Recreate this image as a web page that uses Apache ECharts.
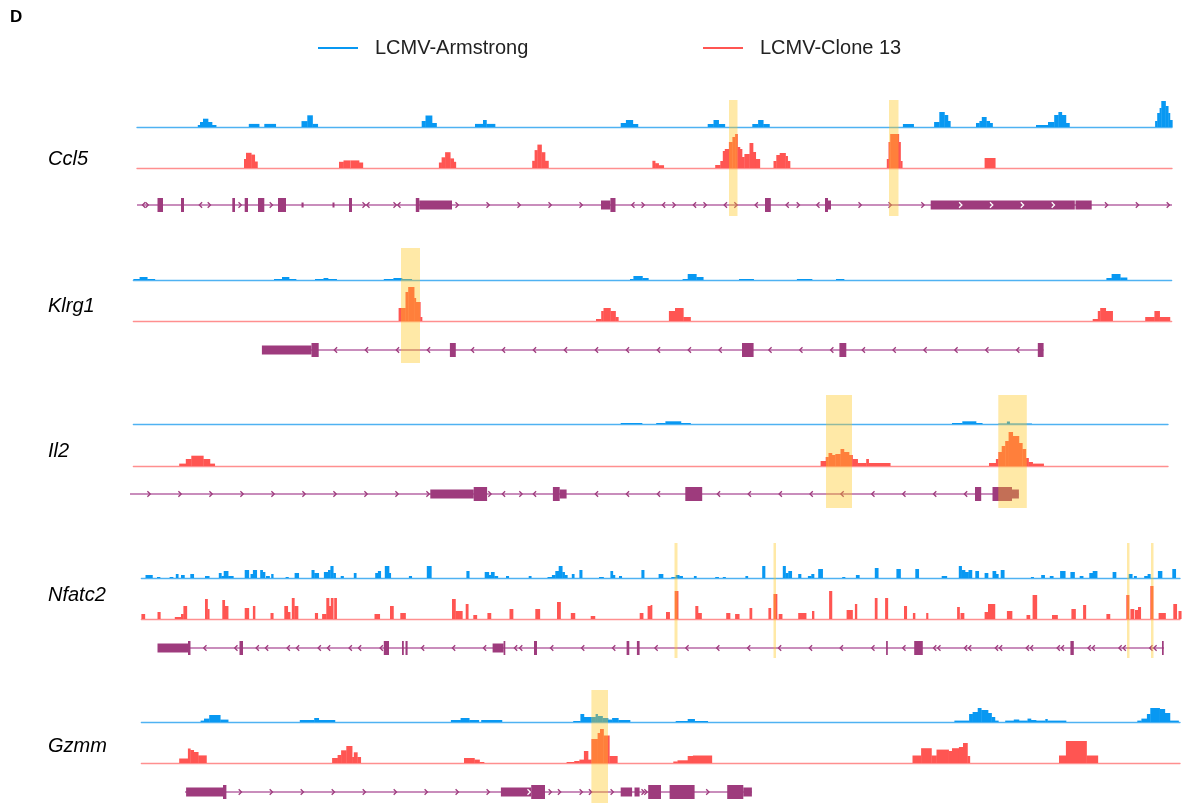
<!DOCTYPE html>
<html><head><meta charset="utf-8">
<script src="https://cdn.jsdelivr.net/npm/echarts@6/dist/echarts.min.js"></script>
<style>html,body{margin:0;padding:0;background:#fff}#c{width:1188px;height:803px}</style>
</head><body><div id="c"></div>
<script>
// ---------- DATA (positions in track units, heights in signal units) ----------
const geneNames = ['Ccl5','Klrg1','Il2','Nfatc2','Gzmm'];
const seriesNames = ['LCMV-Armstrong','LCMV-Clone 13'];

// bins: [start, end, signal]
const ccl5Arm = [[197.8,200,2],[200,203,5],[203,208,8.3],[208,212,5],[212,216.1,2],[248.8,259.1,3.1],[264.3,275.7,3.1],[301.5,307.3,5.9],[307.3,312.5,11.7],[312.5,317.7,3.1],[421.7,425.5,6],[425.5,432,11.5],[432,436.5,4],[475,483,3.1],[483,486.4,7],[486.4,495,3.1],[620.7,625.9,4],[625.9,632.8,7],[632.8,637.9,3],[707.7,713.5,3],[713.5,718.6,7],[718.6,724.8,3],[752.3,758.1,3],[758.1,763.2,7],[763.2,769.4,3],[902.9,913.6,3],[934.1,939.3,5],[939.3,944.4,15],[944.4,947.9,12],[947.9,950.3,6],[976,979.4,4],[979.4,981.8,6],[981.8,986.3,10],[986.3,989.7,6],[989.7,992.5,4],[1036,1048,2],[1048,1054.2,5],[1054.2,1058.4,12],[1058.4,1061.8,15],[1061.8,1065.9,12],[1065.9,1069.4,4],[1155.1,1157.2,6],[1157.2,1159.6,14],[1159.6,1161.3,19],[1161.3,1165.5,26],[1165.5,1168.2,21],[1168.2,1169.9,14],[1169.9,1172.3,7]];
const ccl5Cl13 = [[244,246,9],[246,251.2,15.2],[251.2,254.7,13.4],[254.7,257.4,6.5],[339,343.5,6.2],[343.5,350.2,7.6],[350.6,359,7.6],[359,362.8,5.5],[438.9,441.6,5.5],[441.6,445.1,10.7],[445.1,450.2,15.8],[450.2,453.7,9.6],[453.7,455.8,6.2],[532.2,534.6,7.2],[534.6,537.4,17.9],[537.4,541.5,23.4],[541.5,545,15.8],[545,548.4,7.2],[652.4,655.1,7.2],[655.1,658.6,4.8],[658.6,663.7,2.8],[715.2,720.3,3],[720.3,722.8,7],[722.8,724.8,17],[724.8,728.9,19],[728.9,732.4,26],[732.4,735.1,31],[735.1,737.5,34],[737.5,739.9,21],[739.9,742,19],[742,744.4,11],[744.4,749.5,14],[749.5,753,25],[753,755.7,16],[755.7,759.8,9],[773.5,776.3,7],[776.3,779.7,13],[779.7,785.5,15],[785.5,787.6,12],[787.6,790,7],[886.8,888.5,9],[888.5,890.2,26],[890.2,898.8,34],[898.8,900.5,26],[900.5,902.2,7],[984.6,995.2,10]];

const klrg1Arm = [[133.4,139.6,1],[139.6,147.2,3],[147.2,154.8,1],[274,282,1],[282,289,3],[289,296,1],[315,323.5,1],[323.5,328,2],[328,336.6,1],[383.8,393.4,1],[393.4,402,2],[402,411.7,1],[630,633.4,1],[633.4,642.4,4],[642.4,648.3,2],[682.6,687.7,1],[687.7,696.3,6],[696.3,703.2,3],[739,753.6,1],[796.9,812,1],[836,844,1],[1106.4,1111.6,2],[1111.6,1120.2,6],[1120.2,1127,2.5]];
const klrg1Cl13 = [[398.6,405.5,13],[405.5,408.2,29],[408.2,414.1,34],[414.1,415.8,23],[415.8,420.3,19],[420.3,422,4],[596,601.2,2],[601.2,603.5,10],[603.5,610.4,13],[610.4,615.5,10],[615.5,618.3,4],[668.9,675,10],[675,683.3,13],[683.3,690.5,4],[1092.7,1097.8,2],[1097.8,1100.2,10],[1100.2,1105.7,13],[1105.7,1112.6,10],[1145.2,1154.4,4],[1154.4,1159.6,10],[1159.6,1169.9,4]];

const il2Arm = [[620.7,642,1],[656.2,665.4,1],[665.4,680.9,2.7],[680.9,690.5,1],[952,962.3,1],[962.3,976,2.7],[976,982.2,1],[998.3,1006.9,0.5],[1006.9,1009.6,2.5],[1009.6,1031.6,0.5]];
const il2Cl13 = [[179.2,185.8,2.4],[185.8,191.3,7],[191.3,203.3,10.3],[203.3,209.9,7],[209.9,214.7,2.4],[820.6,825.7,5],[825.7,828.5,9],[828.5,831.9,13],[831.9,835.3,11],[835.3,840.5,12],[840.5,843.9,17],[843.9,849,14],[849,852.5,11],[852.5,857.6,7],[857.6,866.2,3],[866.2,868.6,7],[868.6,890.2,3],[989,995.9,3],[995.9,998.3,7],[998.3,1001.7,14],[1001.7,1005.2,20],[1005.2,1008.6,25],[1008.6,1012.7,34],[1012.7,1018.9,30],[1018.9,1022.3,23],[1022.3,1025.8,17],[1025.8,1028.5,8],[1028.5,1032.6,4],[1032.6,1043.6,2.4]];

const nfatc2Arm = [[145.5,152.4,3],[157,160,1],[169.6,173,1],[175.8,178.2,4],[181,184.4,3],[190.3,193.7,4],[205,209.2,2],[218.8,221.3,5],[221.3,223.7,2],[223.7,228.1,7],[228.1,233.3,2],[244.7,248.8,8],[250.5,252.9,4],[252.9,256.7,8],[260.2,262.6,8],[262.6,265,6],[266,269.5,2],[271.2,273.2,4],[285.6,288.4,1],[294.6,298.7,5],[311.5,314.2,8],[314.2,318.7,5],[323.9,328,6],[328,330.4,8],[330.4,333.2,12],[333.2,335.6,5],[340.7,343.5,2],[353.8,356.2,5],[375.2,377.9,5],[377.9,380.7,7],[384.8,389,12],[389,390.7,5],[408.9,411.7,2],[426.8,431.3,12],[466.4,469.2,7],[484.7,488.8,6],[488.8,490.9,3],[490.9,494.3,6],[494.3,497.8,2],[506,508.7,2],[528.7,531.2,2],[547.5,551.9,1],[551.9,555.3,3],[555.3,558.7,7],[558.7,562.2,12],[562.2,564.6,6],[564.6,567.3,3],[571.8,574.2,4],[579.4,582.1,8],[599,603.5,1],[610.4,612.8,7],[612.8,614.9,3],[619,621.7,2],[641.4,644.1,8],[658.6,663,4],[671.3,675.7,1],[675.7,679.2,3],[679.2,682.6,2],[693.9,696.3,2],[715.2,718.6,1],[722.8,725.5,1],[745.4,747.8,2],[762.2,765,12],[782.8,785.5,12],[785.5,788.3,5],[788.3,791.7,7],[798.2,801,4],[807.9,811.3,2],[811.3,814,4],[818.2,822.6,9],[842.2,845,1],[855.9,859.3,3],[874.8,878.2,10],[896.4,900.5,9],[915.3,918.7,9],[941.7,946.8,2],[958.8,961.6,12],[961.6,965,8],[965,968.5,6],[968.5,971.9,8],[975.3,978.7,7],[984.6,988,5],[992.5,995.9,7],[995.9,998.3,4],[1000.7,1004.2,8],[1030.9,1033.6,1],[1041.2,1044.6,3],[1049.8,1053.2,2],[1060.1,1065.2,7],[1070.4,1074.5,6],[1079.7,1083.1,2],[1089.3,1092.7,5],[1092.7,1097.1,7],[1112.6,1116,6],[1128.7,1132.2,4],[1133.9,1136.5,2],[1144.2,1147.6,2],[1147.6,1150.3,4],[1157.9,1162,7],[1172.3,1175.7,9]];
const nfatc2Cl13 = [[141.4,144.8,5],[157.5,160.3,7],[174.8,181,2],[181,183.4,5],[183.4,186.8,13],[205,207.5,20],[207.5,209.2,10],[222.3,224.7,19],[224.7,228.1,13],[244.7,248.8,11],[252.9,255,13],[270.5,273.2,6],[284.3,287.7,13],[287.7,290.1,7],[291.8,294.3,21],[294.3,298,13],[314.9,317.7,6],[322.1,326.3,5],[326.3,329,21],[329,330.8,13],[330.8,333.2,21],[334.2,336.6,21],[374.5,379.7,5],[390,393.4,13],[400.3,405.5,6],[452,455.4,20],[455.4,458.9,8],[458.9,462.3,8],[465.7,468.2,15],[473.3,476.8,4],[487.4,490.9,6],[509.5,513,10],[535.3,539.8,10],[557,560.5,17],[570.8,574.9,6],[590.7,594.9,3],[639.7,643.1,6],[647.6,650.6,13],[650.6,652,14],[666,669.6,7],[674.7,678.1,28],[695.3,698,13],[698,701.5,6],[726.2,730,6],[735.1,739.2,5],[749.5,751.9,11],[768.4,770.8,11],[773.5,777,25],[778.7,782.1,5],[798.2,806.1,6],[812,814,8],[829.1,831.9,28],[846.6,852.5,9],[854.9,856.9,15],[874.8,877.2,21],[885.1,887.8,21],[904,906.7,13],[912.9,915,6],[926.2,928,6],[957.1,959.5,12],[960.5,964,6],[984.6,988,7],[988,994.9,15],[1006.9,1012,8],[1026.5,1029.9,4],[1032.6,1036.8,24],[1052,1057.5,4],[1071.4,1075.5,10],[1083.1,1085.8,14],[1106.4,1109.9,5],[1126.3,1129,24],[1130.4,1134,10],[1135,1138,9],[1138,1140.7,12],[1150.3,1153.1,33],[1158.6,1165.5,6],[1173.3,1176.7,15],[1178.5,1181.2,8]];

const gzmmArm = [[200.6,204,1.4],[204,209.2,3.4],[209.2,220.2,7],[220.2,228.1,2.4],[299.8,314.2,2],[314.2,318.7,4],[318.7,334.9,2],[450.9,460.6,2],[460.6,469.2,4],[469.2,478.8,2],[481.2,501.9,2],[573.2,580.4,1],[580.4,583.9,8],[583.9,591.4,5],[591.4,595.6,5],[595.6,597.6,8],[597.6,602.5,6],[602.5,608,4],[608,612.1,2.4],[612.1,618.3,4],[618.3,630,2],[675.7,687.7,1],[687.7,694.6,3],[694.6,707.7,1],[954.4,969.1,1.4],[969.1,972.6,8],[972.6,977.7,10],[977.7,981.2,14],[981.2,988,12],[988,991.5,9],[991.5,994.9,5],[994.9,998.3,1.4],[1005.2,1013.8,1.4],[1013.8,1018.9,2.5],[1018.9,1027.5,1.4],[1027.5,1030.9,3.4],[1030.9,1036,2],[1036,1045.3,1.4],[1045.3,1047.4,3],[1047.4,1066,1.4],[1137.3,1141.4,1.4],[1141.4,1146.9,3.4],[1146.9,1150.3,8],[1150.3,1159.6,14],[1159.6,1164.8,13],[1164.8,1169.9,9],[1169.9,1178.5,1.4]];
const gzmmCl13 = [[179.2,187.9,4.5],[187.9,190.3,14.5],[190.3,193.7,13],[193.7,198.2,11],[198.2,206.4,7.6],[332.1,337.6,5],[337.6,341.1,8],[341.1,346.3,12.7],[346.3,352.1,17],[352.1,353.8,6],[353.8,357.3,10.7],[357.3,360.7,6],[464,474.4,5],[474.4,479.5,3.4],[479.5,484,1],[566.6,574.2,1],[574.2,579.4,2],[579.4,583.9,3.4],[583.9,588,12],[588,591.4,3.4],[591.4,597.6,24],[597.6,600,30],[600,603.5,34],[603.5,609.3,27.5],[609.3,617.3,7],[673.3,677.5,1.5],[677.5,687.7,2.7],[687.7,692.9,7],[692.9,711.8,7.5],[912.5,921.1,7.5],[921.1,931.4,14.8],[931.4,936.5,7.5],[936.5,948.6,13.4],[948.6,952,12],[952,958.9,14.8],[958.9,963,16],[963,967.4,20],[967.4,969.8,7],[1059,1065.9,7.5],[1065.9,1086.5,22],[1086.5,1097.8,7.5]];

// gene models: span [start,end]; exons [start,end,kind(2 coding,1 utr,0 small)]; strand marks [pos,dir,inside]
const ccl5Span = [137,1172];
const ccl5Exons = [[157.5,163,2],[181,184,2],[232.3,235,2],[244.7,248,2],[258,264.3,2],[278,286,2],[301.5,303.6,0],[332.5,334.5,0],[349,352,2],[415.8,419.3,2],[419.3,452,1],[601,610.4,1],[610.4,615.5,2],[765,770.8,2],[825,828,2],[828,831,1],[930.7,1074.8,1],[1075.5,1091.7,1]];
const ccl5Marks = [[143.8,-1],[147,1],[200.6,-1],[209.2,1],[240,1],[271.2,1],[364,1],[368,-1],[395,1],[399,-1],[457,1],[488,1],[519,1],[550,1],[581,1],[633,-1],[643,1],[663.7,-1],[674,1],[694.6,-1],[705,1],[725.5,-1],[735.8,1],[756.4,-1],[787.3,-1],[798.2,1],[818,-1],[860,1],[890,1],[922.8,1],[960.6,1,1],[991.5,1,1],[1022.3,1,1],[1053.2,1,1],[1106.4,1],[1137.3,1],[1168.2,1]];

const klrg1Span = [262,1043.6];
const klrg1Exons = [[261.9,311.5,1],[311.5,318.7,2],[449.9,455.8,2],[742,753.6,2],[839.4,846.3,2],[1037.8,1043.6,2]];
const klrg1Marks = [[335.6,-1],[366.6,-1],[397.6,-1],[428.6,-1],[472.6,-1],[503.6,-1],[534.6,-1],[565.6,-1],[596.6,-1],[627.6,-1],[658.6,-1],[689.5,-1],[720.3,-1],[770.1,-1],[801,-1],[831.9,-1],[863.5,-1],[894.3,-1],[925.2,-1],[956.1,-1],[987,-1],[1017.9,-1]];

const il2Span = [130,1019];
const il2Exons = [[430.3,473.7,1],[473.7,487.1,2],[552.9,559.7,2],[559.7,566.6,1],[685.3,702.2,2],[975,981.2,2],[992.5,1012,2],[1012,1018.9,1]];
const il2Marks = [[148.9,1],[179.9,1],[210.9,1],[241.9,1],[272.9,1],[303.9,1],[334.9,1],[365.9,1],[396.9,1],[427.9,1],[489.8,1],[503.6,-1],[520.8,1],[534.6,-1],[596.6,-1],[627.6,-1],[658.6,-1],[718.6,-1],[749.5,-1],[780.4,-1],[811.3,-1],[842.2,-1],[873,-1],[904,-1],[934.8,-1],[965.7,-1]];

const nfatc2Span = [158,1164];
const nfatc2Exons = [[157.5,188,1],[188,190.5,2],[239.5,243,2],[383.8,389,2],[402,403.8,2],[405.5,407.6,2],[492.6,503.6,1],[503.6,505.3,2],[534,537,2],[626.6,629.3,2],[636.9,639.6,2],[886.1,887.8,2],[914.2,922.8,2],[1070.4,1073.8,2],[1162,1163.7,2]];
const nfatc2Marks = [[205,-1],[236,-1],[257.4,-1],[266.7,-1],[288.4,-1],[297.7,-1],[319.4,-1],[328.7,-1],[350.4,-1],[359.7,-1],[381.4,-1],[422.7,-1],[453.7,-1],[484.7,-1],[515.7,-1],[520.8,-1],[551.8,-1],[582.8,-1],[613.8,-1],[656.2,-1],[687.1,-1],[717.9,-1],[748.8,-1],[779.7,-1],[810.6,-1],[841.5,-1],[873,-1],[904,-1],[934.8,-1],[939,-1],[965.7,-1],[969.8,-1],[996.6,-1],[1000.7,-1],[1027.5,-1],[1031.6,-1],[1058.4,-1],[1062.5,-1],[1089.3,-1],[1093.4,-1],[1120.2,-1],[1124.3,-1],[1151,-1],[1155.1,-1]];

const gzmmSpan = [185,752];
const gzmmExons = [[186.1,223,1],[223,226.4,2],[500.9,531.2,1],[531.2,545,2],[620.7,632.1,1],[634.5,639.6,1],[648.2,661,2],[669.6,694.6,2],[727.2,743.3,2],[743.3,751.9,1]];
const gzmmMarks = [[240.2,1],[271.2,1],[302.2,1],[333.2,1],[364.2,1],[395.2,1],[426.1,1],[457.1,1],[488.1,1],[529,1,1],[550.1,1],[559.4,1],[581.1,1],[590.4,1],[612.1,1],[643,1],[645.8,1],[707.7,1]];

// highlighted regions [start,end]
const ccl5Hl = [[729,737.5],[889,898.5]];
const klrg1Hl = [[401,420]];
const il2Hl = [[826,852],[998.3,1026.8]];
const nfatc2Hl = [[674.5,677.5],[773.5,776],[1127,1129.5],[1151,1153.5]];
const gzmmHl = [[591.4,608]];

const panelData = [
  {arm: ccl5Arm, cl13: ccl5Cl13, span: ccl5Span, exons: ccl5Exons, marks: ccl5Marks, hl: ccl5Hl},
  {arm: klrg1Arm, cl13: klrg1Cl13, span: klrg1Span, exons: klrg1Exons, marks: klrg1Marks, hl: klrg1Hl},
  {arm: il2Arm, cl13: il2Cl13, span: il2Span, exons: il2Exons, marks: il2Marks, hl: il2Hl},
  {arm: nfatc2Arm, cl13: nfatc2Cl13, span: nfatc2Span, exons: nfatc2Exons, marks: nfatc2Marks, hl: nfatc2Hl},
  {arm: gzmmArm, cl13: gzmmCl13, span: gzmmSpan, exons: gzmmExons, marks: gzmmMarks, hl: gzmmHl}
];

// ---------- LAYOUT / STYLE ----------
const layout = [
  {x0:137, x1:1172, blue:127, red:168, gene:205, hlTop:100, hlBot:216, label:158},
  {x0:133.4, x1:1171.6, blue:280, red:321, gene:350, hlTop:248, hlBot:363, label:305},
  {x0:133.4, x1:1168, blue:424, red:466, gene:494, hlTop:395, hlBot:508, label:450},
  {x0:141.4, x1:1180, blue:578, red:619, gene:648, hlTop:543, hlBot:658, label:594},
  {x0:141.4, x1:1180, blue:722, red:763, gene:792, hlTop:690, hlBot:803, label:745}
];
const BLUE = '#0898f2', BLUE_LINE = '#4fb2f2';
const RED = '#ff5552', RED_LINE = '#ff8f8f';
const PURPLE = '#9e3b7d', PURPLE_LINE = '#b767a6';
const HL = 'rgba(255,198,24,0.38)';
const FONT = 'Liberation Sans, Arial, sans-serif';

const grid = [], xAxis = [], yAxis = [], series = [], title = [];
title.push({text:'D', left:5, top:4, textStyle:{fontFamily:FONT, fontSize:17, fontWeight:'bold', color:'#000'}});

function binRender(color){
  return function(params, api){
    const a = api.coord([api.value(0), api.value(2)]);
    const b = api.coord([api.value(1), 0]);
    return {type:'rect', shape:{x:a[0], y:a[1], width:b[0]-a[0]+0.35, height:b[1]-a[1]}, style:{fill:color}};
  };
}
function addGrid(l, top, height, ymin, ymax, lineColor){
  const idx = grid.length;
  grid.push({left:l.x0, width:l.x1-l.x0, top:top, height:height, containLabel:false});
  xAxis.push({gridIndex:idx, type:'value', min:l.x0, max:l.x1, axisLine:{show:!!lineColor, onZero:false, lineStyle:{color:lineColor||'#000', width:1.4}}, axisTick:{show:false}, axisLabel:{show:false}, splitLine:{show:false}});
  yAxis.push({gridIndex:idx, type:'value', min:ymin, max:ymax, show:false, splitLine:{show:false}});
  return idx;
}

layout.forEach((l, p) => {
  const d = panelData[p];
  title.push({text:geneNames[p], left:43, top:l.label-14, textStyle:{fontFamily:FONT, fontSize:20, fontStyle:'italic', fontWeight:'normal', color:'#000'}});
  // Armstrong track
  let g = addGrid(l, l.blue-30, 30, 0, 30, BLUE_LINE);
  series.push({type:'custom', name:seriesNames[0], xAxisIndex:g, yAxisIndex:g, data:d.arm, encode:{x:[0,1], y:2}, renderItem:binRender(BLUE), itemStyle:{color:BLUE}, silent:true, z:3});
  // Clone 13 track
  g = addGrid(l, l.red-36, 36, 0, 36, RED_LINE);
  series.push({type:'custom', name:seriesNames[1], xAxisIndex:g, yAxisIndex:g, data:d.cl13, encode:{x:[0,1], y:2}, renderItem:binRender(RED), itemStyle:{color:RED}, silent:true, z:3});
  // gene model
  g = addGrid(l, l.gene-10, 20, -10, 10, null);
  series.push({type:'custom', xAxisIndex:g, yAxisIndex:g, data:[d.span], encode:{x:[0,1]}, silent:true, z:2,
    renderItem:(params, api) => {
      const a = api.coord([api.value(0), 0]), b = api.coord([api.value(1), 0]);
      return {type:'line', shape:{x1:a[0], y1:a[1], x2:b[0], y2:b[1]}, style:{stroke:PURPLE_LINE, lineWidth:1.4}};
    }});
  series.push({type:'custom', xAxisIndex:g, yAxisIndex:g, data:d.exons, encode:{x:[0,1]}, silent:true, z:3,
    renderItem:(params, api) => {
      const k = api.value(2);
      const h = k === 2 ? 14 : (k === 1 ? 9 : 5);
      const a = api.coord([api.value(0), 0]), b = api.coord([api.value(1), 0]);
      return {type:'rect', shape:{x:a[0], y:a[1]-h/2, width:Math.max(b[0]-a[0], 1.5), height:h}, style:{fill:PURPLE}};
    }});
  series.push({type:'custom', xAxisIndex:g, yAxisIndex:g, data:d.marks.map(m => [m[0], m[1], m[2]||0]), encode:{x:0}, silent:true, z:4,
    renderItem:(params, api) => {
      const dir = api.value(1), inside = api.value(2);
      const c = api.coord([api.value(0), 0]);
      return {type:'polyline', shape:{points:[[c[0]-dir*1.5, c[1]-2.8], [c[0]+dir*1.3, c[1]], [c[0]-dir*1.5, c[1]+2.8]]}, style:{stroke: inside ? '#ffffff' : PURPLE, lineWidth:1.3, fill:null}};
    }});
  // highlights
  g = addGrid(l, l.hlTop, l.hlBot-l.hlTop, 0, 1, null);
  series.push({type:'custom', xAxisIndex:g, yAxisIndex:g, data:d.hl, encode:{x:[0,1]}, silent:true, z:10,
    renderItem:(params, api) => {
      const a = api.coord([api.value(0), 1]), b = api.coord([api.value(1), 0]);
      return {type:'rect', shape:{x:a[0], y:a[1], width:b[0]-a[0], height:b[1]-a[1]}, style:{fill:HL}};
    }});
});

const legendCommon = {top:33, itemWidth:40, itemHeight:2, icon:'rect', textStyle:{fontFamily:FONT, fontSize:20, color:'#222', padding:[0,0,0,12]}, selectedMode:false};
const option = {
  animation:false,
  backgroundColor:'#fff',
  title: title,
  legend: [
    Object.assign({}, legendCommon, {left:313, data:[{name:seriesNames[0], itemStyle:{color:BLUE}}]}),
    Object.assign({}, legendCommon, {left:698, data:[{name:seriesNames[1], itemStyle:{color:RED}}]})
  ],
  grid: grid, xAxis: xAxis, yAxis: yAxis, series: series
};
const chart = echarts.init(document.getElementById('c'), null, {renderer:'canvas'});
chart.setOption(option);
</script></body></html>
